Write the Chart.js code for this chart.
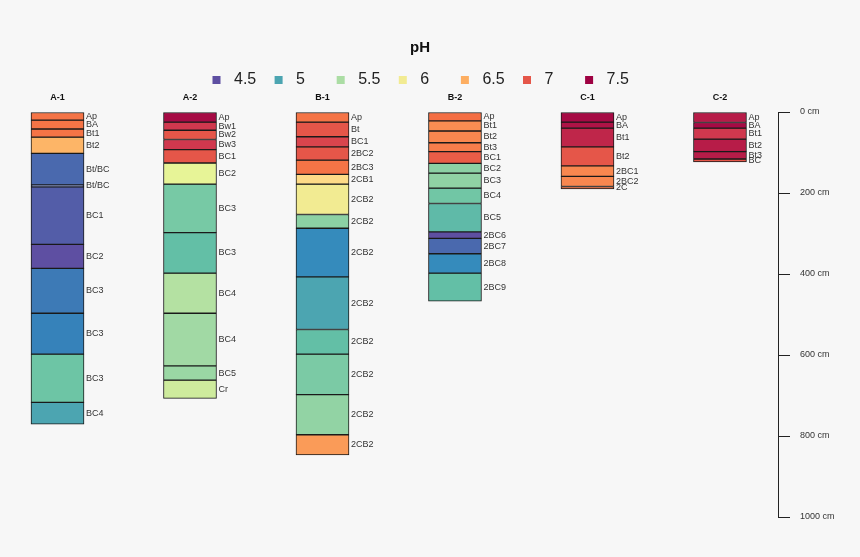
<!DOCTYPE html>
<html>
<head>
<meta charset="utf-8">
<title>pH soil profiles</title>
<script src="https://cdn.jsdelivr.net/npm/chart.js@4.4.1/dist/chart.umd.min.js"></script>
<style>
  html, body { margin: 0; padding: 0; background: #f7f7f7; }
  #wrap { width: 860px; height: 557px; position: relative; }
</style>
</head>
<body>
<div id="wrap"><canvas id="chart"></canvas></div>
<script>
const profiles = ['A-1', 'A-2', 'B-1', 'B-2', 'C-1', 'C-2'];

// horizon boundaries in cm, one list per profile
const depths = [
  [0, 20, 42, 62, 102, 180, 185, 327, 386, 497, 598, 717, 771],
  [0, 25, 45, 68, 93, 126, 178, 298, 398, 497, 627, 662, 707],
  [0, 25, 61, 86, 119, 154, 178, 253, 287, 407, 537, 598, 698, 797, 847],
  [0, 22, 47, 76, 98, 127, 151, 188, 226, 296, 312, 350, 398, 467],
  [0, 25, 40, 86, 133, 159, 184, 190],
  [0, 26, 40, 67, 98, 116, 123],
];

const horizons = [
  ['Ap', 'BA', 'Bt1', 'Bt2', 'Bt/BC', 'Bt/BC', 'BC1', 'BC2', 'BC3', 'BC3', 'BC3', 'BC4'],
  ['Ap', 'Bw1', 'Bw2', 'Bw3', 'BC1', 'BC2', 'BC3', 'BC3', 'BC4', 'BC4', 'BC5', 'Cr'],
  ['Ap', 'Bt', 'BC1', '2BC2', '2BC3', '2CB1', '2CB2', '2CB2', '2CB2', '2CB2', '2CB2', '2CB2', '2CB2', '2CB2'],
  ['Ap', 'Bt1', 'Bt2', 'Bt3', 'BC1', 'BC2', 'BC3', 'BC4', 'BC5', '2BC6', '2BC7', '2BC8', '2BC9'],
  ['Ap', 'BA', 'Bt1', 'Bt2', '2BC1', '2BC2', '2C'],
  ['Ap', 'BA', 'Bt1', 'Bt2', 'Bt3', 'BC'],
];

const phValues = [
  [6.8, 6.8, 6.8, 6.45, 4.65, 4.62, 4.58, 4.5, 4.75, 4.8, 5.2, 5.0],
  [7.45, 7.2, 7.0, 7.2, 7.0, 5.85, 5.25, 5.15, 5.55, 5.45, 5.42, 5.7],
  [6.8, 7.0, 7.12, 7.0, 6.8, 6.2, 6.0, 5.35, 4.85, 5.0, 5.15, 5.27, 5.38, 6.6],
  [6.83, 6.67, 6.7, 6.75, 6.95, 5.35, 5.37, 5.22, 5.12, 4.5, 4.65, 4.85, 5.15],
  [7.45, 7.4, 7.3, 7.0, 6.7, 6.7, 6.8],
  [7.35, 7.45, 7.2, 7.35, 7.35, 7.0],
];

const phLegend = [4.5, 5, 5.5, 6, 6.5, 7, 7.5];
const depthTicks = [0, 200, 400, 600, 800, 1000];

// Spectral palette, low pH -> high pH
const spectral = ['#5E4FA2', '#3288BD', '#66C2A5', '#ABDDA4', '#E6F598',
                  '#FEE08B', '#FDAE61', '#F46D43', '#D53E4F', '#9E0142'];

function hexToRgb(h) {
  return [1, 3, 5].map(i => parseInt(h.substr(i, 2), 16));
}

function phColor(ph) {
  const lo = phLegend[0], hi = phLegend[phLegend.length - 1];
  const t = Math.min(Math.max((ph - lo) / (hi - lo), 0), 1) * (spectral.length - 1);
  const i = Math.min(Math.floor(t), spectral.length - 2);
  const f = t - i;
  const a = hexToRgb(spectral[i]), b = hexToRgb(spectral[i + 1]);
  const c = a.map((v, k) => Math.round(v + (b[k] - v) * f));
  return 'rgb(' + c.join(',') + ')';
}

const FONT = '"Liberation Sans", Arial, sans-serif';

const maxLayers = Math.max(...horizons.map(h => h.length));
const datasets = [];
for (let i = 0; i < maxLayers; i++) {
  const data = [];
  profiles.forEach((p, j) => {
    if (i < horizons[j].length) {
      data.push({ x: j, y: [depths[j][i], depths[j][i + 1]], ph: phValues[j][i], name: horizons[j][i] });
    }
  });
  datasets.push({
    label: 'layer ' + (i + 1),
    data: data,
    backgroundColor: data.map(d => phColor(d.ph)),
    borderColor: '#1a1a1a',
    borderWidth: 1,
    borderSkipped: false,
    barThickness: 53,
    grouped: false,
  });
}

const horizonLabels = {
  id: 'horizonLabels',
  afterDatasetsDraw(chart) {
    const ctx = chart.ctx;
    ctx.save();
    ctx.font = '9px ' + FONT;
    ctx.fillStyle = '#333';
    ctx.textAlign = 'left';
    ctx.textBaseline = 'middle';
    chart.data.datasets.forEach((ds, i) => {
      chart.getDatasetMeta(i).data.forEach((bar, k) => {
        const p = bar.getProps(['x', 'y', 'base', 'width'], true);
        ctx.fillText(ds.data[k].name, p.x + p.width / 2 + 2, (p.y + p.base) / 2);
      });
    });
    ctx.font = 'bold 9px ' + FONT;
    ctx.fillStyle = '#111';
    ctx.textAlign = 'center';
    const xs = chart.scales.x;
    profiles.forEach((p, j) => {
      ctx.fillText(p, xs.getPixelForValue(j), chart.chartArea.top - 14);
    });
    ctx.restore();
  }
};

const phLegendPlugin = {
  id: 'phLegend',
  afterDraw(chart) {
    const ctx = chart.ctx;
    const center = 420;
    const step = 62.1;
    ctx.save();
    ctx.textBaseline = 'middle';
    ctx.textAlign = 'center';
    ctx.fillStyle = '#111';
    ctx.font = 'bold 15px ' + FONT;
    ctx.fillText('pH', center, 48);
    ctx.font = '16px ' + FONT;
    ctx.textAlign = 'left';
    const first = center - 203.5;
    phLegend.forEach((v, i) => {
      const cx = first + i * step;
      ctx.fillStyle = phColor(v);
      ctx.fillRect(cx - 4, 76, 8, 8);
      ctx.fillStyle = '#222';
      ctx.fillText(String(v), cx + 17.5, 80);
    });
    ctx.restore();
  }
};

new Chart(document.getElementById('chart'), {
  type: 'bar',
  data: { datasets: datasets },
  options: {
    responsive: true,
    maintainAspectRatio: false,
    animation: false,
    layout: { padding: { top: 112, bottom: 40, left: 0, right: 0 } },
    plugins: {
      legend: { display: false },
      tooltip: { enabled: false },
      title: { display: false },
    },
    scales: {
      x: {
        type: 'linear',
        display: false,
        offset: false,
        min: -0.434,
        max: 5.438,
      },
      y: {
        position: 'right',
        reverse: true,
        min: depthTicks[0],
        max: depthTicks[depthTicks.length - 1],
        afterFit: s => { s.width = 82; },
        afterBuildTicks: s => { s.ticks = depthTicks.map(v => ({ value: v })); },
        ticks: {
          padding: 10,
          color: '#333',
          font: { size: 9, family: FONT },
          callback: v => v + ' cm',
        },
        grid: {
          drawOnChartArea: false,
          drawTicks: true,
          tickLength: 12,
          color: '#222',
        },
        border: { display: true, color: '#222', width: 1 },
      },
    },
  },
  plugins: [horizonLabels, phLegendPlugin],
});
</script>
</body>
</html>
